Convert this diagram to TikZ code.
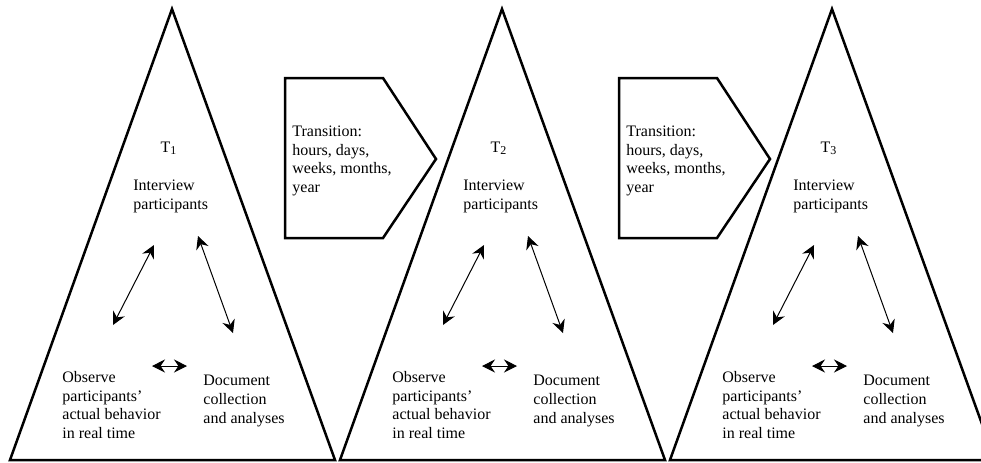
\documentclass[tikz,border=0pt]{standalone}
\usepackage{fontspec}
\setmainfont{Liberation Serif}
\usetikzlibrary{arrows.meta}
\tikzstyle{panel} = [line width=1.25pt, line join=miter]
\tikzstyle{arrow} = [<->, >={Stealth[length=6.5pt,width=6.5pt,inset=2.2pt]}, line width=0.5pt]
\tikzstyle{txt} = [align=left, inner sep=0pt, anchor=west, font=\fontsize{8}{9.4}\selectfont]

\begin{document}
\begin{tikzpicture}[x=0.5pt, y=-0.5pt]
        \useasboundingbox (0,0) rectangle (981,462);
        \clip (0,0) rectangle (981,462);

        % the three time points
        \foreach \i in {1,2,3} {
            \pgfmathsetmacro{\off}{(\i-1)*330}
            \draw[panel] (172+\off,9) -- (335+\off,460) -- (10+\off,460) -- cycle;
            \node[txt, anchor=base] (time\i) at (169+\off,152) {T\textsubscript{\i}};
            \node[txt] (interview\i) at (133+\off,196) {Interview\\participants};
            \node[txt] (observe\i) at (62+\off,405) {Observe\\participants'\\actual behavior\\in real time};
            \node[txt] (document\i) at (203+\off,401) {Document\\collection\\and analyses};
            \coordinate (ia\i) at (154+\off,245);
            \coordinate (oa\i) at (113+\off,325);
            \coordinate (ib\i) at (198+\off,236);
            \coordinate (db\i) at (233+\off,333);
            \coordinate (oc\i) at (152+\off,366);
            \coordinate (dc\i) at (187+\off,366);
            \draw[arrow] (oa\i) -- (ia\i);
            \draw[arrow] (ib\i) -- (db\i);
            \draw[arrow] (oc\i) -- (dc\i);
        }

        % transitions between them
        \foreach \i/\off in {1/0, 2/334} {
            \draw[panel] (285+\off,78) -- (383+\off,78) -- (436+\off,159) -- (383+\off,238) -- (285+\off,238) -- cycle;
            \node[txt] (transition\i) at (292+\off,161) {Transition:\\hours, days,\\weeks, months,\\year};
        }
\end{tikzpicture}
\end{document}
